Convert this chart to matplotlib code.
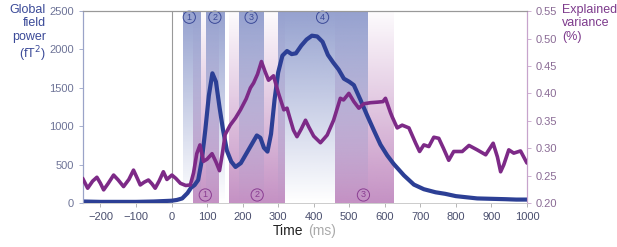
import numpy as np
import matplotlib
matplotlib.use("Agg")
import matplotlib.pyplot as plt
from matplotlib.colors import to_rgb

plt.rcParams['font.family'] = ['Liberation Sans', 'DejaVu Sans']

# global field power (fT^2)
gfp_t = [-250, -200, -150, -100, -50, 0, 15, 30, 45, 55, 65, 75, 85, 95, 105, 115,
         125, 135, 145, 156, 168, 180, 195, 210, 225, 240, 250, 260, 270, 280, 290,
         300, 312, 325, 338, 350, 365, 380, 395, 410, 425, 440, 455, 470, 485, 500,
         513, 532, 550, 569, 588, 607, 625, 654, 682, 710, 743, 770, 800, 830, 860,
         900, 940, 970, 1000]
gfp_v = [20, 15, 15, 15, 20, 30, 40, 60, 130, 200, 235, 300, 550, 950, 1400, 1690,
         1580, 1250, 950, 680, 540, 470, 520, 640, 760, 880, 850, 720, 670, 900, 1350,
         1700, 1920, 1980, 1940, 1950, 2050, 2130, 2180, 2170, 2100, 1930, 1830, 1740,
         1620, 1580, 1536, 1340, 1146, 950, 760, 620, 510, 360, 240, 180, 140, 120,
         90, 75, 60, 55, 50, 45, 45]

# explained variance
ev_t = [-250, -236, -222, -210, -200, -191, -178, -163, -150, -135, -120, -107, -97,
        -88, -77, -65, -55, -46, -35, -23, -13, 1, 12, 25, 40, 53, 62, 71, 80, 90,
        100, 114, 125, 135, 143, 151, 165, 180, 194, 210, 222, 231, 242, 253, 263,
        273, 287, 301, 316, 325, 333, 343, 353, 365, 377, 386, 400, 419, 430, 438,
        456, 475, 484, 499, 513, 527, 541, 560, 580, 595, 602, 616, 621, 635, 649,
        668, 687, 698, 710, 724, 738, 752, 765, 780, 794, 818, 837, 860, 884, 905,
        917, 926, 935, 949, 963, 982, 1000]
ev_v = [0.245, 0.227, 0.240, 0.247, 0.236, 0.224, 0.236, 0.251, 0.242, 0.230, 0.243,
        0.260, 0.246, 0.233, 0.238, 0.242, 0.235, 0.227, 0.240, 0.257, 0.243, 0.251,
        0.245, 0.236, 0.232, 0.233, 0.255, 0.290, 0.306, 0.276, 0.280, 0.290, 0.275,
        0.259, 0.290, 0.325, 0.342, 0.355, 0.370, 0.390, 0.410, 0.419, 0.435, 0.458,
        0.440, 0.424, 0.432, 0.400, 0.370, 0.373, 0.355, 0.333, 0.321, 0.335, 0.351,
        0.339, 0.322, 0.310, 0.318, 0.324, 0.351, 0.391, 0.388, 0.400, 0.385, 0.373,
        0.381, 0.383, 0.384, 0.385, 0.391, 0.365, 0.357, 0.337, 0.342, 0.337, 0.309,
        0.294, 0.306, 0.303, 0.320, 0.318, 0.300, 0.278, 0.294, 0.294, 0.305, 0.297,
        0.288, 0.309, 0.284, 0.257, 0.270, 0.297, 0.291, 0.295, 0.273]

# time windows
blue_bands = [(32, 81), (98, 151), (191, 261), (301, 552)]
blue_label_x = [50, 122, 224, 425]
purple_bands = [(60, 131), (163, 320), (461, 625)]
purple_label_x = [95, 241, 540]

blue_line = '#2c3f95'
purple_line = '#7d2a87'
blue_text = '#3b4a98'
purple_text = '#7d3a8c'

fig = plt.figure(figsize=(6.17, 2.47), dpi=100)
ax = fig.add_axes([0.134, 0.178, 0.72, 0.777])
ax2 = ax.twinx()


def band(x0, x1, color, top_alpha, bottom_alpha):
    n = 100
    img = np.zeros((n, 1, 4))
    img[:, 0, :3] = to_rgb(color)
    img[:, 0, 3] = np.linspace(top_alpha, bottom_alpha, n)
    ax.imshow(img, extent=[x0, x1, 0, 2500], aspect='auto', origin='upper',
              interpolation='bilinear', zorder=0)


for x0, x1 in purple_bands:
    band(x0, x1, '#b676b5', 0.03, 0.8)
for x0, x1 in blue_bands:
    band(x0, x1, '#8391c7', 0.85, 0.0)
ax.set_xlim(-250, 1000)
ax.set_ylim(0, 2500)
ax2.set_ylim(0.20, 0.55)

ax.axvline(0, color='#999999', lw=0.8, zorder=1)

ax.plot(gfp_t, gfp_v, color=blue_line, lw=3, solid_capstyle='round', zorder=3)
ax2.plot(ev_t, ev_v, color=purple_line, lw=2.6, solid_capstyle='round', zorder=3)

for i, x in enumerate(blue_label_x):
    ax.text(x, 2420, str(i + 1), color='#3b4a98', fontsize=6.5, ha='center', va='center',
            bbox=dict(boxstyle='circle,pad=0.18', fc='none', ec='#3b4a98', lw=0.7))
for i, x in enumerate(purple_label_x):
    ax.text(x, 105, str(i + 1), color='#8a3d92', fontsize=6.5, ha='center', va='center',
            bbox=dict(boxstyle='circle,pad=0.18', fc='none', ec='#8a3d92', lw=0.7))

ax.set_xticks(range(-200, 1001, 100))
ax.set_xticklabels([str(v).replace('-', '\u2212') for v in range(-200, 1001, 100)])
ax.set_yticks(range(0, 2501, 500))
ax2.set_yticks([0.20, 0.25, 0.30, 0.35, 0.40, 0.45, 0.50, 0.55])
ax2.set_yticklabels(['%.2f' % v for v in [0.20, 0.25, 0.30, 0.35, 0.40, 0.45, 0.50, 0.55]])

ax.tick_params(axis='x', colors='#aaaaaa', labelcolor='#4a4f6e', labelsize=8, length=3, width=0.6)
ax.tick_params(axis='y', colors='#9aa3c8', labelcolor='#6d7397', labelsize=8, length=3, width=0.6)
ax2.tick_params(axis='y', colors='#c7a3cc', labelcolor='#8a6b95', labelsize=8, length=3, width=0.6)

for a in (ax, ax2):
    a.spines['top'].set_color('#999999')
    a.spines['top'].set_linewidth(0.8)
    a.spines['bottom'].set_color('#cccccc')
    a.spines['bottom'].set_linewidth(0.6)
    a.spines['left'].set_color('#9aa3c8')
    a.spines['right'].set_color('#c7a3cc')
    a.spines['left'].set_linewidth(0.8)
    a.spines['right'].set_linewidth(0.8)

fig.text(46 / 617, 1 - 4 / 247, 'Global\nfield\npower\n(fT$^2$)', ha='right', va='top',
         color=blue_text, fontsize=9, linespacing=1.15)
fig.text(562 / 617, 1 - 4 / 247, 'Explained\nvariance\n(%)', ha='left', va='top',
         color=purple_text, fontsize=9, linespacing=1.15)

fig.text(303 / 617, 0.035, 'Time', ha='right', va='bottom', color='#222222', fontsize=10)
fig.text(308 / 617, 0.035, '(ms)', ha='left', va='bottom', color='#aaaaaa', fontsize=10)

fig.savefig('out.png', dpi=100)
